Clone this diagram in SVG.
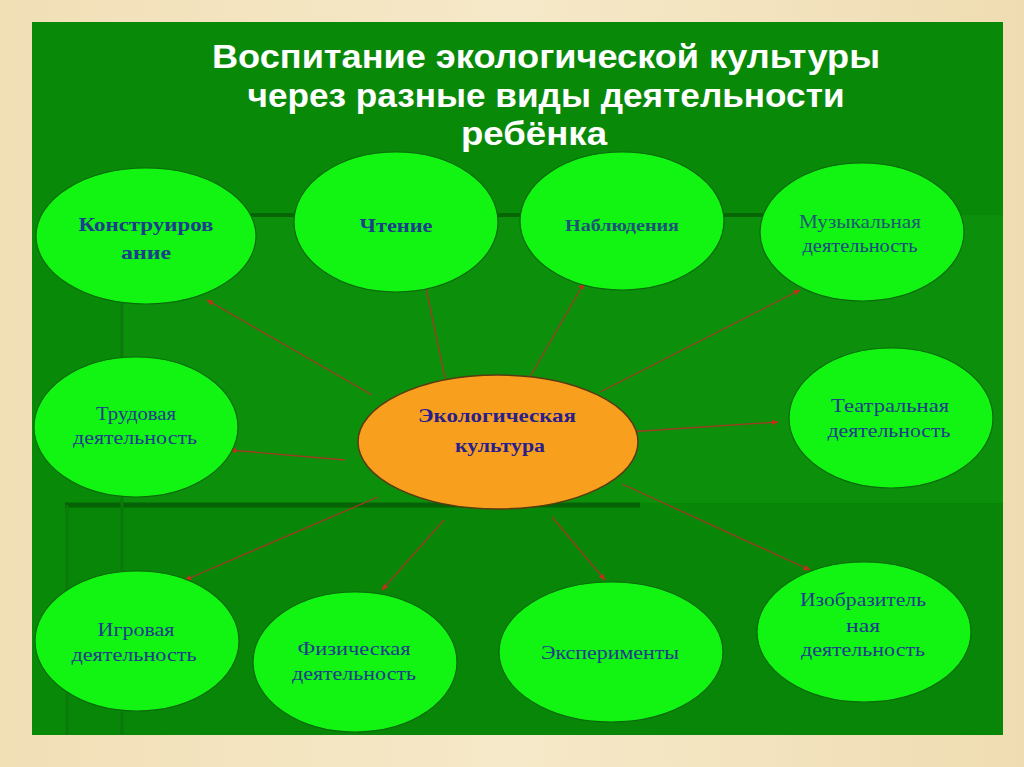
<svg xmlns="http://www.w3.org/2000/svg" width="1024" height="767" viewBox="0 0 1024 767">
<defs>
<style>
.node{fill:#12f512;stroke:#0a6a0a;stroke-width:1.2}
.center{fill:#f8a01e;stroke:#5a3a10;stroke-width:1.5}
.t{font-family:"Liberation Serif","Times New Roman",serif;fill:#1e3c8c;text-anchor:middle;font-size:19.5px}
.tb{font-family:"Liberation Serif","Times New Roman",serif;fill:#1b3f8a;text-anchor:middle;font-size:19px;font-weight:bold}
.title{font-family:"Liberation Sans",Arial,sans-serif;fill:#ffffff;font-weight:bold;font-size:34px;text-anchor:middle}
.conn line{stroke:#a03a22;stroke-width:1.3}
</style>
<marker id="ah" viewBox="0 0 10 10" refX="9" refY="5" markerWidth="7" markerHeight="7" orient="auto" markerUnits="userSpaceOnUse">
<path d="M0,1 L10,5 L0,9 z" fill="#c0301a"/>
</marker>
<linearGradient id="frame" x1="0" y1="0" x2="1" y2="0">
<stop offset="0" stop-color="#f1dfb6"/>
<stop offset="0.5" stop-color="#f6e9c9"/>
<stop offset="1" stop-color="#efdcb2"/>
</linearGradient>
</defs>
<rect x="0" y="0" width="1024" height="767" fill="url(#frame)"/>
<rect x="32" y="22" width="971" height="713" fill="#088a08"/>
<rect x="122" y="215" width="881" height="290" fill="#0c900c"/>
<line x1="250" y1="215" x2="770" y2="215" stroke="#066606" stroke-width="4"/>
<rect x="65" y="503" width="938" height="232" fill="#078607"/>
<line x1="65" y1="505" x2="640" y2="505" stroke="#056205" stroke-width="5"/>
<line x1="122" y1="300" x2="122" y2="505" stroke="#0a7a0a" stroke-width="3"/>
<line x1="67" y1="505" x2="67" y2="735" stroke="#0b7a0b" stroke-width="3"/>
<line x1="122" y1="505" x2="122" y2="735" stroke="#0a780a" stroke-width="3"/>

<g id="title">
<text class="title" x="546" y="68" textLength="668" lengthAdjust="spacingAndGlyphs">Воспитание экологической культуры</text>
<text class="title" x="546" y="107" textLength="597" lengthAdjust="spacingAndGlyphs">через разные виды деятельности</text>
<text class="title" x="534" y="145" textLength="146" lengthAdjust="spacingAndGlyphs">ребёнка</text>
</g>

<g class="conn" id="connectors">
<line x1="372" y1="395" x2="207" y2="300" marker-end="url(#ah)"/>
<line x1="445" y1="378" x2="425" y2="283" marker-end="url(#ah)"/>
<line x1="530" y1="377" x2="584" y2="283" marker-end="url(#ah)"/>
<line x1="600" y1="392" x2="800" y2="290" marker-end="url(#ah)"/>
<line x1="345" y1="460" x2="230" y2="450" marker-end="url(#ah)"/>
<line x1="628" y1="432" x2="778" y2="422" marker-end="url(#ah)"/>
<line x1="378" y1="497" x2="185" y2="580" marker-end="url(#ah)"/>
<line x1="444" y1="520" x2="382" y2="590" marker-end="url(#ah)"/>
<line x1="552" y1="517" x2="605" y2="580" marker-end="url(#ah)"/>
<line x1="622" y1="484" x2="810" y2="570" marker-end="url(#ah)"/>
</g>

<g id="n-konstr">
<ellipse class="node" cx="146" cy="236" rx="110" ry="68"/>
<text class="tb" x="146" y="231" textLength="135" lengthAdjust="spacingAndGlyphs">Конструиров</text>
<text class="tb" x="146" y="259" textLength="50" lengthAdjust="spacingAndGlyphs">ание</text>
</g>
<g id="n-chtenie">
<ellipse class="node" cx="396" cy="222" rx="102" ry="70"/>
<text class="tb" x="396" y="232" textLength="73" lengthAdjust="spacingAndGlyphs">Чтение</text>
</g>
<g id="n-nabl">
<ellipse class="node" cx="622" cy="221" rx="102" ry="69"/>
<text class="tb" x="622" y="231" style="fill:#1c5478;font-size:17px" textLength="114" lengthAdjust="spacingAndGlyphs">Наблюдения</text>
</g>
<g id="n-muz">
<ellipse class="node" cx="862" cy="232" rx="102" ry="69"/>
<text class="t" x="860" y="228" style="fill:#1c5a70" textLength="122" lengthAdjust="spacingAndGlyphs">Музыкальная</text>
<text class="t" x="860" y="252" style="fill:#1c4a80" textLength="115" lengthAdjust="spacingAndGlyphs">деятельность</text>
</g>
<g id="n-trud">
<ellipse class="node" cx="136" cy="427" rx="102" ry="70"/>
<text class="t" x="136" y="420" textLength="80" lengthAdjust="spacingAndGlyphs">Трудовая</text>
<text class="t" x="135" y="444" textLength="124" lengthAdjust="spacingAndGlyphs">деятельность</text>
</g>
<g id="n-eco">
<ellipse class="center" cx="498" cy="442" rx="140" ry="67"/>
<text class="tb" x="497" y="422" style="fill:#2a1e8a" textLength="158" lengthAdjust="spacingAndGlyphs">Экологическая</text>
<text class="tb" x="500" y="452" style="fill:#2a1e8a" textLength="90" lengthAdjust="spacingAndGlyphs">культура</text>
</g>
<g id="n-teatr">
<ellipse class="node" cx="891" cy="418" rx="102" ry="70"/>
<text class="t" x="890" y="412" textLength="118" lengthAdjust="spacingAndGlyphs">Театральная</text>
<text class="t" x="889" y="437" textLength="123" lengthAdjust="spacingAndGlyphs">деятельность</text>
</g>
<g id="n-igr">
<ellipse class="node" cx="137" cy="641" rx="102" ry="70"/>
<text class="t" x="136" y="636" textLength="77" lengthAdjust="spacingAndGlyphs">Игровая</text>
<text class="t" x="134" y="661" textLength="125" lengthAdjust="spacingAndGlyphs">деятельность</text>
</g>
<g id="n-fiz">
<ellipse class="node" cx="355" cy="662" rx="102" ry="70"/>
<text class="t" x="354" y="655" textLength="113" lengthAdjust="spacingAndGlyphs">Физическая</text>
<text class="t" x="354" y="680" textLength="124" lengthAdjust="spacingAndGlyphs">деятельность</text>
</g>
<g id="n-eksp">
<ellipse class="node" cx="611" cy="652" rx="112" ry="70"/>
<text class="t" x="610" y="659" textLength="138" lengthAdjust="spacingAndGlyphs">Эксперименты</text>
</g>
<g id="n-izo">
<ellipse class="node" cx="864" cy="632" rx="107" ry="70"/>
<text class="t" x="863" y="606" textLength="126" lengthAdjust="spacingAndGlyphs">Изобразитель</text>
<text class="t" x="863" y="632" textLength="34" lengthAdjust="spacingAndGlyphs">ная</text>
<text class="t" x="863" y="656" textLength="124" lengthAdjust="spacingAndGlyphs">деятельность</text>
</g>
</svg>
